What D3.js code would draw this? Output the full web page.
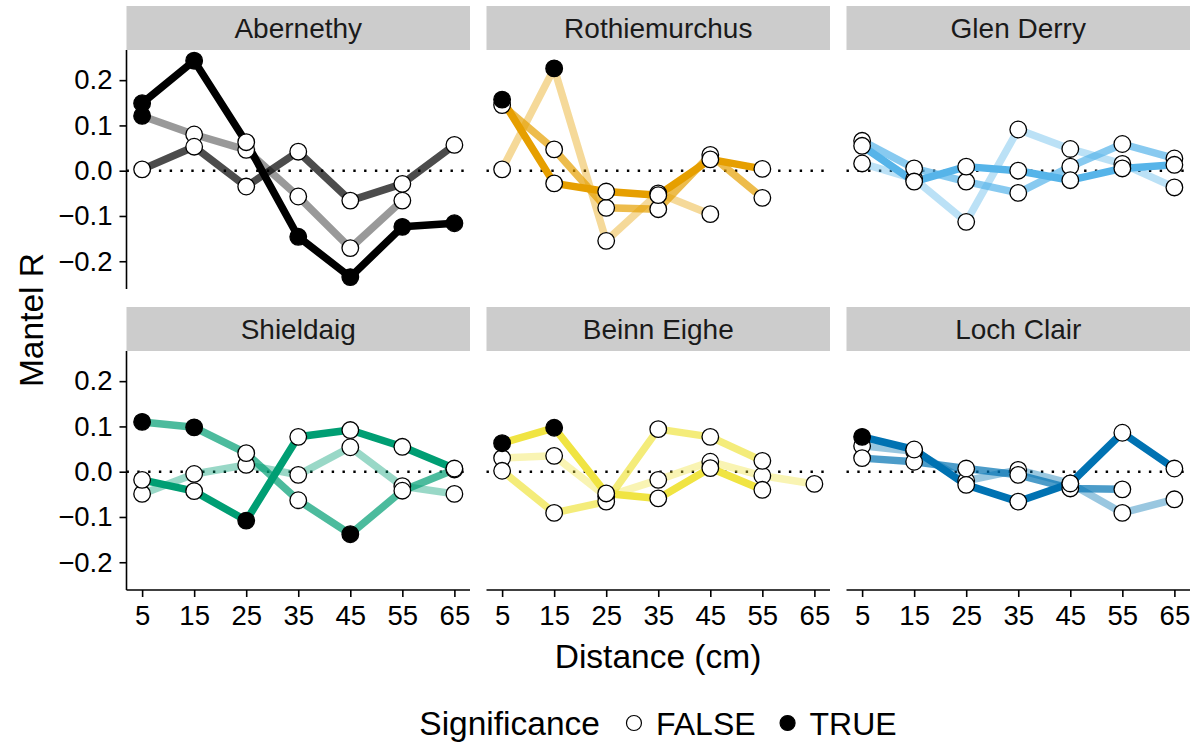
<!DOCTYPE html>
<html>
<head>
<meta charset="utf-8">
<script src="https://cdn.jsdelivr.net/npm/d3@7"></script>
<style>
  html, body { margin: 0; padding: 0; background: #fff; }
  svg { display: block; font-family: "Liberation Sans", Arial, Helvetica, sans-serif; }
</style>
</head>
<body>
<svg id="chart" width="1200" height="743"></svg>
<script>
// ---------------- data ----------------
const distances = [5, 15, 25, 35, 45, 55, 65];
const xTicks = [5, 15, 25, 35, 45, 55, 65];
const yTicks = [-0.2, -0.1, 0.0, 0.1, 0.2];
const sites = ["Abernethy", "Rothiemurchus", "Glen Derry", "Shieldaig", "Beinn Eighe", "Loch Clair"];
const siteColors = ["#000000", "#E69F00", "#56B4E9", "#009E73", "#F0E442", "#0072B2"];
const lineAlphas = [1, 0.7, 0.4];
const legendLabels = ["FALSE", "TRUE"];

// Mantel R per site: three series (by line alpha 1, 0.7, 0.4); null = no value
const abernethyR = [
  [0.149, 0.243, 0.063, -0.146, -0.235, -0.124, -0.116],
  [0.003, 0.053, -0.035, 0.042, -0.066, -0.029, 0.057],
  [0.121, 0.080, 0.046, -0.057, -0.171, -0.066, null]
];
const abernethySig = [
  [1, 1, 0, 1, 1, 1, 1],
  [0, 0, 0, 0, 0, 0, 0],
  [1, 0, 0, 0, 0, 0, 0]
];
const rothiemurchusR = [
  [0.157, -0.028, -0.046, -0.054, 0.025, 0.004, null],
  [0.145, 0.047, -0.082, -0.085, 0.035, -0.060, null],
  [0.003, 0.226, -0.155, -0.050, -0.096, null, null]
];
const rothiemurchusSig = [
  [1, 0, 0, 0, 0, 0, 0],
  [0, 0, 0, 0, 0, 0, 0],
  [0, 1, 0, 0, 0, 0, 0]
];
const glenDerryR = [
  [0.055, -0.024, 0.009, 0.000, -0.021, 0.005, 0.013],
  [0.066, 0.005, -0.024, -0.049, 0.009, 0.059, 0.027],
  [0.016, -0.018, -0.113, 0.091, 0.048, 0.015, -0.037]
];
const glenDerrySig = [
  [0, 0, 0, 0, 0, 0, 0],
  [0, 0, 0, 0, 0, 0, 0],
  [0, 0, 0, 0, 0, 0, 0]
];
const shieldaigR = [
  [-0.018, -0.043, -0.108, 0.077, 0.092, 0.055, 0.007],
  [0.110, 0.098, 0.041, -0.063, -0.138, -0.042, 0.005],
  [-0.049, -0.005, 0.015, -0.007, 0.054, -0.032, -0.049]
];
const shieldaigSig = [
  [0, 0, 1, 0, 0, 0, 0],
  [1, 1, 0, 0, 1, 0, 0],
  [0, 0, 0, 0, 0, 0, 0]
];
const beinnEigheR = [
  [0.063, 0.097, -0.048, -0.059, 0.008, -0.040, null],
  [0.002, -0.091, -0.066, 0.094, 0.077, 0.024, null],
  [0.030, 0.035, -0.055, -0.018, 0.022, -0.009, -0.027]
];
const beinnEigheSig = [
  [1, 1, 0, 0, 0, 0, 0],
  [0, 0, 0, 0, 0, 0, 0],
  [0, 0, 0, 0, 0, 0, 0]
];
const lochClairR = [
  [0.077, 0.049, -0.029, -0.066, -0.026, 0.086, 0.007],
  [0.030, 0.022, 0.007, -0.007, -0.037, -0.039, null],
  [0.057, 0.045, -0.020, 0.004, -0.026, -0.091, -0.061]
];
const lochClairSig = [
  [1, 0, 0, 0, 0, 0, 0],
  [0, 0, 0, 0, 0, 0, 0],
  [0, 0, 0, 0, 0, 0, 0]
];

const siteValues = [abernethyR, rothiemurchusR, glenDerryR, shieldaigR, beinnEigheR, lochClairR];
const siteSig = [abernethySig, rothiemurchusSig, glenDerrySig, shieldaigSig, beinnEigheSig, lochClairSig];

// ---------------- layout ----------------
const svg = d3.select("#chart");
const colLeft = [126.5, 486.5, 846.5];
const panelW = 343.5;
const rowTop = [50, 351];
const panelH = 239;
const stripH = 44;

const x = d3.scaleLinear().domain([2, 68]).range([0, panelW]);
const y = d3.scaleLinear().domain([-0.2613, 0.2666]).range([panelH, 0]);

const fontTick = 27.5;
const fontTitle = 33.5;
const fontStrip = 28;
const fontLegend = 32;
const fontFamily = "'Liberation Sans', Arial, Helvetica, sans-serif";

sites.forEach((site, i) => {
  const col = i % 3, row = Math.floor(i / 3);
  const g = svg.append("g").attr("transform", `translate(${colLeft[col]},${rowTop[row]})`);

  // strip
  g.append("rect").attr("x", 0).attr("y", -stripH).attr("width", panelW).attr("height", stripH)
    .attr("fill", "#cccccc");
  g.append("text").attr("x", panelW / 2).attr("y", -stripH / 2).attr("dy", "0.36em")
    .attr("text-anchor", "middle").attr("font-size", fontStrip).attr("fill", "#1a1a1a").text(site);

  // zero reference line
  g.append("line").attr("x1", 0).attr("x2", panelW).attr("y1", y(0)).attr("y2", y(0))
    .attr("stroke", "#000").attr("stroke-width", 2.4).attr("stroke-dasharray", "2.4 8.4");

  const vals = siteValues[i], sig = siteSig[i];
  const line = d3.line().defined(d => d.v !== null).x(d => x(d.d)).y(d => y(d.v));

  // lines: lightest first
  [2, 1, 0].forEach(k => {
    const pts = distances.map((d, j) => ({ d: d, v: vals[k][j] }));
    g.append("path").datum(pts).attr("d", line)
      .attr("fill", "none").attr("stroke", siteColors[i]).attr("stroke-opacity", lineAlphas[k])
      .attr("stroke-width", 7.5).attr("stroke-linejoin", "round").attr("stroke-linecap", "butt");
  });

  // points: FALSE first, then TRUE
  const allPts = [];
  [2, 1, 0].forEach(k => {
    distances.forEach((d, j) => {
      if (vals[k][j] !== null) allPts.push({ d: d, v: vals[k][j], s: sig[k][j] });
    });
  });
  allPts.sort((a, b) => a.s - b.s);
  g.selectAll("circle.pt").data(allPts).enter().append("circle")
    .attr("class", "pt")
    .attr("cx", d => x(d.d)).attr("cy", d => y(d.v)).attr("r", 8.3)
    .attr("fill", d => d.s ? "#000" : "#fff").attr("stroke", "#000").attr("stroke-width", 1.3);

  // y axis on first column
  if (col === 0) {
    const ya = g.append("g").call(d3.axisLeft(y).tickValues(yTicks).tickSize(7).tickPadding(7)
      .tickFormat(d => d3.format(".1f")(d).replace("-", "\u2212")));
    ya.select(".domain").attr("d", `M0,0V${panelH}`).attr("stroke-width", 1.6);
    ya.selectAll(".tick line").attr("stroke-width", 1.6);
    ya.selectAll("text").attr("font-size", fontTick).attr("fill", "#000").attr("font-family", fontFamily);
  }
  // x axis on bottom row
  if (row === 1) {
    const xa = g.append("g").attr("transform", `translate(0,${panelH})`)
      .call(d3.axisBottom(x).tickValues(xTicks).tickSize(7).tickPadding(8).tickFormat(d3.format("d")));
    xa.select(".domain").attr("d", `M0,0H${panelW}`).attr("stroke-width", 1.6);
    xa.selectAll(".tick line").attr("stroke-width", 1.6);
    xa.selectAll("text").attr("font-size", fontTick).attr("fill", "#000").attr("font-family", fontFamily);
  }
});

// axis titles
svg.append("text").attr("x", 658).attr("y", 668).attr("text-anchor", "middle")
  .attr("font-size", fontTitle).attr("fill", "#000").text("Distance (cm)");
svg.append("text").attr("transform", "translate(43,320) rotate(-90)").attr("text-anchor", "middle")
  .attr("font-size", fontTitle).attr("fill", "#000").text("Mantel R");

// legend, centred under the panels
const lg = svg.append("g").attr("transform", "translate(0,723)");
const title = lg.append("text").attr("x", 0).attr("y", 0).attr("dy", "0.36em").attr("font-size", fontTitle)
  .attr("fill", "#000").text("Significance");
const items = legendLabels.map((lab, i) => {
  const c = lg.append("circle").attr("cy", 0).attr("r", 7.5)
    .attr("fill", i === 1 ? "#000" : "#fff").attr("stroke", "#000").attr("stroke-width", 1.2);
  const t = lg.append("text").attr("y", 0).attr("dy", "0.36em").attr("font-size", fontLegend)
    .attr("fill", "#000").text(lab);
  return { c, t };
});
const wTitle = title.node().getComputedTextLength();
const wLab = items.map(it => it.t.node().getComputedTextLength());
const gapTitle = 34, gapKey = 22, gapItem = 32;
const total = wTitle + gapTitle + gapKey + wLab[0] + gapItem + gapKey + wLab[1];
let cx = 658 - total / 2;
title.attr("x", cx);
cx += wTitle + gapTitle;
items[0].c.attr("cx", cx); cx += gapKey; items[0].t.attr("x", cx); cx += wLab[0] + gapItem;
items[1].c.attr("cx", cx); cx += gapKey; items[1].t.attr("x", cx);
</script>
</body>
</html>
